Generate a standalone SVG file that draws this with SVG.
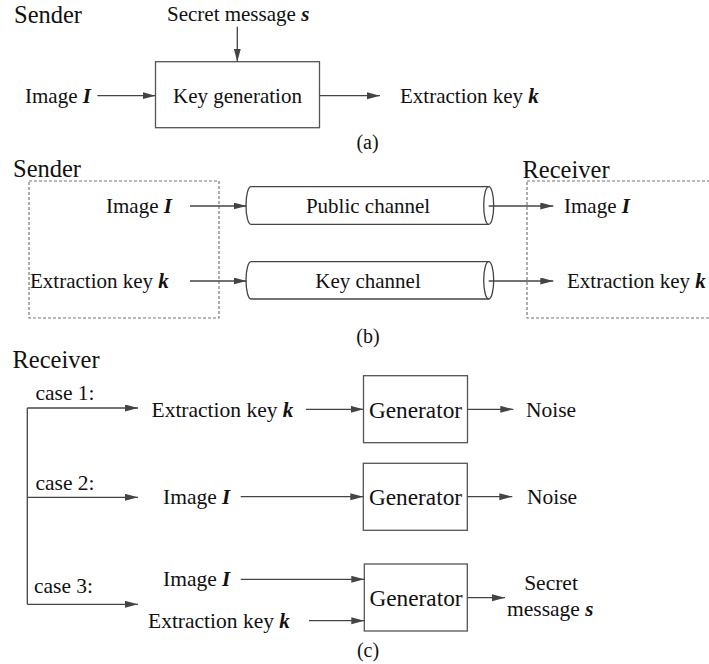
<svg xmlns="http://www.w3.org/2000/svg" width="709" height="664" viewBox="0 0 709 664" font-family="Liberation Serif, Times New Roman, serif">
<style>
text,tspan{font-family:"Liberation Serif","Times New Roman","DejaVu Serif",serif;fill:#111;font-size:21px}
.h{font-size:24.5px}
.c{font-size:21.5px}
.g{font-size:23.3px}
.bi{font-weight:bold;font-style:italic}
.box{fill:#fff;stroke:#555;stroke-width:1.3}
.dash{fill:none;stroke:#777;stroke-width:1.2;stroke-dasharray:3 2}
.ln{fill:none;stroke:#444;stroke-width:1.3}
.ar{marker-end:url(#ah)}
</style>
<defs>
<marker id="ah" markerUnits="userSpaceOnUse" markerWidth="14" markerHeight="8" refX="13" refY="3.5" orient="auto">
<path d="M0,0 L13,3.5 L0,7 z" fill="#444"/>
</marker>
</defs>
<rect width="709" height="664" fill="#fff"/>

<!-- (a) -->
<g id="a-labels">
<text class="h" x="14" y="23">Sender</text>
<text x="167" y="21">Secret message <tspan class="bi">s</tspan></text>
<text x="25" y="102.5">Image <tspan class="bi">I</tspan></text>
<text x="400" y="103">Extraction key <tspan class="bi">k</tspan></text>
<text x="367.5" y="149" text-anchor="middle" style="font-size:20px">(a)</text>
</g>
<g id="keygen">
<rect class="box" x="155.5" y="61.7" width="164" height="66"/>
<text x="237.5" y="102.5" text-anchor="middle">Key generation</text>
</g>

<!-- (b) -->
<g id="sender-b">
<text class="h" x="13" y="177">Sender</text>
<rect class="dash" x="29" y="181" width="190" height="137"/>
<text x="106" y="213">Image <tspan class="bi">I</tspan></text>
<text x="30" y="288">Extraction key <tspan class="bi">k</tspan></text>
</g>
<g id="public-channel">
<path class="ln" d="M251,186.7 H488.7 M251,224.3 H488.7 M251,186.7 A5,18.8 0 0 0 251,224.3"/>
<ellipse class="ln" cx="488.7" cy="205.5" rx="5" ry="18.8"/>
<text x="368" y="212.5" text-anchor="middle">Public channel</text>
</g>
<g id="key-channel">
<path class="ln" d="M251,261.7 H488.7 M251,299 H488.7 M251,261.7 A5,18.65 0 0 0 251,299"/>
<ellipse class="ln" cx="488.7" cy="280.35" rx="5" ry="18.65"/>
<text x="368" y="287.5" text-anchor="middle">Key channel</text>
</g>
<g id="receiver-b">
<text class="h" x="522.5" y="178">Receiver</text>
<rect class="dash" x="527" y="181" width="200" height="137"/>
<text x="564" y="213">Image <tspan class="bi">I</tspan></text>
<text x="567" y="288">Extraction key <tspan class="bi">k</tspan></text>
</g>
<text x="368" y="343" text-anchor="middle" style="font-size:20px">(b)</text>

<!-- (c) -->
<g id="c-labels">
<text class="h" x="12.5" y="368">Receiver</text>
<text class="c" x="35.5" y="399.5">case 1:</text>
<text class="c" x="35.5" y="490">case 2:</text>
<text class="c" x="34" y="592.5">case 3:</text>
<text class="c" x="151.5" y="416.5">Extraction key <tspan class="bi">k</tspan></text>
<text class="c" x="163" y="504">Image <tspan class="bi">I</tspan></text>
<text class="c" x="163" y="586">Image <tspan class="bi">I</tspan></text>
<text class="c" x="148" y="627.5">Extraction key <tspan class="bi">k</tspan></text>
<text class="c" x="526" y="416.5">Noise</text>
<text class="c" x="527" y="504">Noise</text>
<text class="c" x="551" y="589.5" text-anchor="middle">Secret</text>
<text class="c" x="507" y="616">message <tspan class="bi">s</tspan></text>
<text x="368" y="657" text-anchor="middle" style="font-size:20px">(c)</text>
</g>
<g id="gen1">
<rect class="box" x="363.5" y="375.7" width="104" height="67"/>
<text class="g" x="415.5" y="417.5" text-anchor="middle">Generator</text>
</g>
<g id="gen2">
<rect class="box" x="363.3" y="463.3" width="104" height="67"/>
<text class="g" x="415.5" y="505" text-anchor="middle">Generator</text>
</g>
<g id="gen3">
<rect class="box" x="364.3" y="564" width="103" height="67"/>
<text class="g" x="416" y="605.5" text-anchor="middle">Generator</text>
</g>

<g id="connectors">
<!-- (a) -->
<path class="ln ar" d="M237.3,26.7 V61.7"/>
<path class="ln ar" d="M97.3,95.7 H155.5"/>
<path class="ln ar" d="M319.5,95.7 H380"/>
<!-- (b) -->
<path class="ln ar" d="M190,206 H246.5"/>
<path class="ln ar" d="M190,281 H246.5"/>
<path class="ln ar" d="M488.7,206 H553.3"/>
<path class="ln ar" d="M488.7,281 H553.3"/>
<!-- (c) -->
<path class="ln" d="M27.3,408 V604.3"/>
<path class="ln ar" d="M27.3,408 H138"/>
<path class="ln ar" d="M27.3,497.3 H138"/>
<path class="ln ar" d="M27.3,604.3 H138"/>
<path class="ln ar" d="M306,409.3 H363.5"/>
<path class="ln ar" d="M240.7,496.7 H363.3"/>
<path class="ln ar" d="M240.7,579.3 H364.3"/>
<path class="ln ar" d="M309,620.7 H364.3"/>
<path class="ln ar" d="M467.5,409.3 H513.3"/>
<path class="ln ar" d="M467.3,496.7 H512.3"/>
<path class="ln ar" d="M467.3,597.7 H505"/>
</g>
</svg>
